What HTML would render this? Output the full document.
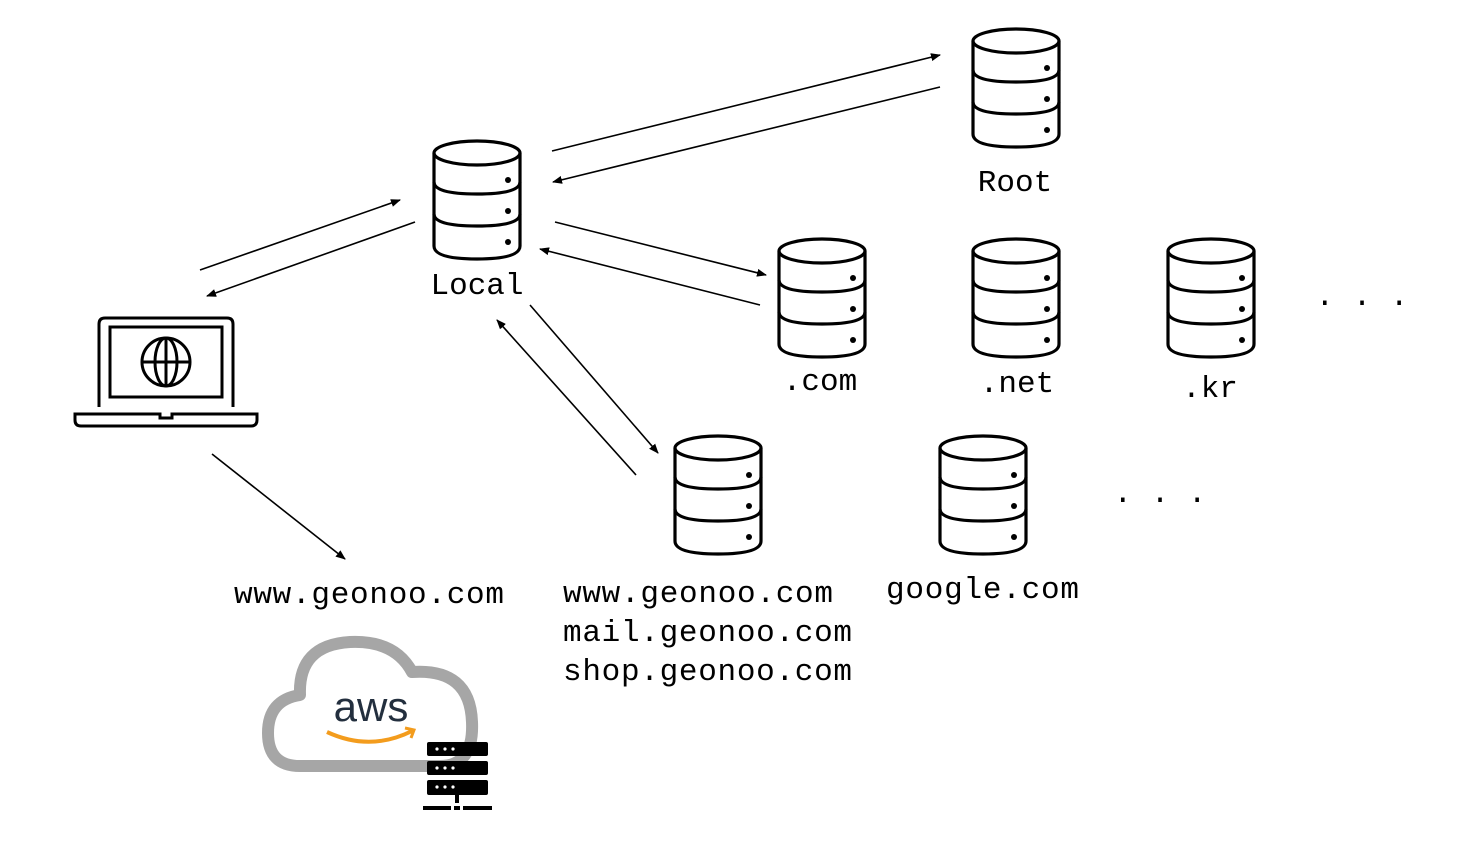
<!DOCTYPE html>
<html><head><meta charset="utf-8"><style>
html,body{margin:0;padding:0;background:#fff;}
svg text{font-family:"Liberation Mono",monospace;font-size:31px;fill:#000;}
</style></head><body>
<svg width="1462" height="848" viewBox="0 0 1462 848" xmlns="http://www.w3.org/2000/svg">
<defs>
<marker id="a" markerWidth="10" markerHeight="8" refX="9" refY="4" orient="auto" markerUnits="userSpaceOnUse">
<path d="M0,0 L10,4 L0,8 z" fill="#000"/></marker>
<g id="db" fill="none" stroke="#000" stroke-width="3.2">
<ellipse cx="44" cy="13" rx="43" ry="12"/>
<path d="M1,13 V106 Q1,119 44,119 Q87,119 87,106 V13"/>
<path d="M1,42 Q1,54 44,54 Q87,54 87,42"/>
<path d="M1,74 Q1,86 44,86 Q87,86 87,74"/>
<circle cx="75" cy="40" r="3" fill="#000" stroke="none"/>
<circle cx="75" cy="71" r="3" fill="#000" stroke="none"/>
<circle cx="75" cy="102" r="3" fill="#000" stroke="none"/>
</g>
</defs>
<use href="#db" x="433" y="140"/>
<use href="#db" x="972" y="28"/>
<use href="#db" x="778" y="238"/>
<use href="#db" x="972" y="238"/>
<use href="#db" x="1167" y="238"/>
<use href="#db" x="674" y="435"/>
<use href="#db" x="939" y="435"/>

<g stroke="#000" stroke-width="1.6" marker-end="url(#a)">
<line x1="200" y1="270" x2="400" y2="200"/>
<line x1="415" y1="222" x2="207" y2="296"/>
<line x1="552" y1="151" x2="940" y2="55"/>
<line x1="940" y1="87" x2="553" y2="182"/>
<line x1="555" y1="222" x2="766" y2="275"/>
<line x1="760" y1="305" x2="540" y2="249"/>
<line x1="530" y1="305" x2="658" y2="453"/>
<line x1="636" y1="475" x2="497" y2="320"/>
<line x1="212" y1="454" x2="345" y2="559"/>
</g>

<text x="477" y="294" text-anchor="middle" font-size="32">Local</text>
<text x="1015" y="191" text-anchor="middle" font-size="32">Root</text>
<text x="820" y="390" text-anchor="middle" font-size="32">.com</text>
<text x="1017" y="392" text-anchor="middle" font-size="32">.net</text>
<text x="1210" y="397" text-anchor="middle" font-size="32">.kr</text>
<text x="1362" y="305" text-anchor="middle" font-size="34">. . .</text>
<text x="1160" y="502" text-anchor="middle" font-size="34">. . .</text>
<text x="234" y="603" font-size="33" textLength="270">www.geonoo.com</text>
<text x="563" y="602" font-size="33" textLength="270">www.geonoo.com</text>
<text x="563" y="641" font-size="33" textLength="289">mail.geonoo.com</text>
<text x="563" y="680" font-size="33" textLength="289">shop.geonoo.com</text>
<text x="886" y="598" font-size="33" textLength="193">google.com</text>

<!-- laptop -->
<g fill="none" stroke="#000" stroke-width="3">
<path d="M99,407 V324 Q99,318 105,318 H227 Q233,318 233,324 V407"/>
<rect x="110" y="327" width="112" height="70"/>
<path d="M75,414 H160 V418 H172 V414 H257 V420 Q257,426 251,426 H81 Q75,426 75,420 Z"/>
<circle cx="166" cy="362" r="24"/>
<ellipse cx="166" cy="362" rx="11" ry="24"/>
<line x1="142" y1="362" x2="190" y2="362"/>
<line x1="166" y1="338" x2="166" y2="386"/>
</g>

<!-- aws cloud -->
<path d="M300,766 Q268,766 268,733 Q268,700 300,695 Q298,645 350,642 Q395,640 412,672 Q470,668 472,722 Q474,766 440,766 Z" fill="none" stroke="#a6a6a6" stroke-width="12" stroke-linejoin="round"/>
<text x="371" y="721" text-anchor="middle" style="font-family:'Liberation Sans',sans-serif;font-size:42px;fill:#232f3e">aws</text>
<path d="M327,732 Q370,752 412,731" fill="none" stroke="#f39c1d" stroke-width="4"/>
<path d="M405,728 L414,730 L411,738" fill="none" stroke="#f39c1d" stroke-width="3"/>
<g fill="#000">
<rect x="427" y="742" width="61" height="14" rx="2"/>
<rect x="427" y="761" width="61" height="14" rx="2"/>
<rect x="427" y="780" width="61" height="15" rx="2"/>
<rect x="455" y="795" width="4" height="8"/>
<rect x="423" y="806" width="28" height="4"/>
<rect x="454" y="806" width="6" height="4"/>
<rect x="463" y="806" width="29" height="4"/>
</g>
<g fill="#fff">
<circle cx="437" cy="749" r="1.6"/><circle cx="445" cy="749" r="1.6"/><circle cx="453" cy="749" r="1.6"/>
<circle cx="437" cy="768" r="1.6"/><circle cx="445" cy="768" r="1.6"/><circle cx="453" cy="768" r="1.6"/>
<circle cx="437" cy="787" r="1.6"/><circle cx="445" cy="787" r="1.6"/><circle cx="453" cy="787" r="1.6"/>
</g>
</svg>
</body></html>
